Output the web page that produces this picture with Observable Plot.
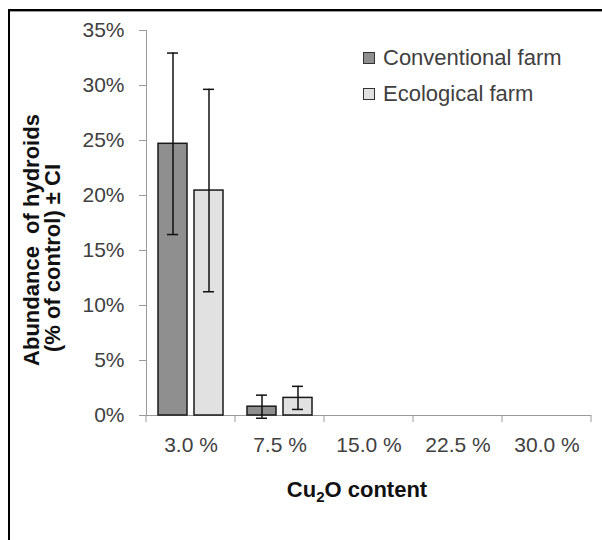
<!DOCTYPE html>
<html><head><meta charset="utf-8">
<script src="https://cdn.jsdelivr.net/npm/d3@7"></script>
<script src="https://cdn.jsdelivr.net/npm/@observablehq/plot@0.6"></script>
<style>
body{margin:0;background:#fff;}
#wrap{position:relative;width:602px;height:540px;overflow:hidden;font-family:"Liberation Sans",Arial,sans-serif;background:#fff;}
#wrap svg{position:absolute;left:0;top:0;}
#frame{position:absolute;left:8px;top:9px;width:600px;height:540px;border-top:2px solid #000;border-left:2px solid #000;box-sizing:border-box;pointer-events:none;}
#frame:after{content:"";position:absolute;left:0;right:0;top:0;height:1px;background:#999;}
.legend{position:absolute;left:363px;top:40px;font-size:22px;color:#404040;line-height:36px;}
.legend div{display:flex;align-items:center;}
.legend span.sw{display:inline-block;width:10px;height:10px;border:1px solid #333;margin-right:8px;}
</style>
</head><body>
<div id="wrap"></div>
<script>
const categories = ["3.0 %","7.5 %","15.0 %","22.5 %","30.0 %"];
const series = ["Conventional farm","Ecological farm"];
const conventional = [24.7, 0.8, 0, 0, 0];
const conventionalCI = [8.25, 1.05, 0, 0, 0];
const ecological = [20.45, 1.6, 0, 0, 0];
const ecologicalCI = [9.2, 1.05, 0, 0, 0];
const yTicks = [0, 5, 10, 15, 20, 25, 30, 35];
const colors = ["#8f8f8f", "#e1e1e1"];

const rows = [];
categories.forEach((c, i) => {
  rows.push({cat: c, series: series[0], value: conventional[i], ci: conventionalCI[i]});
  rows.push({cat: c, series: series[1], value: ecological[i], ci: ecologicalCI[i]});
});
const errRows = rows.filter(d => d.ci > 0);

const plot = Plot.plot({
  width: 602, height: 540,
  marginLeft: 145, marginRight: 10, marginTop: 30, marginBottom: 125,
  style: {fontFamily: '"Liberation Sans", Arial, sans-serif', fontSize: "21px", color: "#404040", background: "transparent", overflow: "visible"},
  fx: {domain: categories, padding: 0, label: null},
  x: {domain: series, paddingInner: 0.19, paddingOuter: 0.315},
  y: {domain: [0, 35], label: null},
  color: {domain: series, range: colors},
  marks: [
    Plot.axisY(yTicks, {anchor: "left", tickSize: 7, tickPadding: 15, tickFormat: d => d + "%", stroke: "#9a9a9a", fill: "#404040", label: null}),
    Plot.axisFx({anchor: "bottom", tickSize: 0, tickPadding: 22, fill: "#404040", label: null}),
    Plot.axisX({ticks: [], label: null, tickSize: 0}),
    Plot.frame({anchor: "left", facetAnchor: "left", stroke: "#9a9a9a"}),
    Plot.ruleY([0], {stroke: "#9a9a9a"}),
    Plot.barY(rows, {fx: "cat", x: "series", y: "value", fill: "series", stroke: "#1a1a1a", strokeWidth: 1.5}),
    Plot.ruleX(errRows, {fx: "cat", x: "series", y1: d => d.value - d.ci, y2: d => d.value + d.ci, stroke: "#111", strokeWidth: 1.5}),
    Plot.tickY(errRows, {fx: "cat", x: "series", y: d => d.value - d.ci, insetLeft: 9, insetRight: 9, stroke: "#111", strokeWidth: 1.5}),
    Plot.tickY(errRows, {fx: "cat", x: "series", y: d => d.value + d.ci, insetLeft: 9, insetRight: 9, stroke: "#111", strokeWidth: 1.5})
  ]
});

const svg = d3.select(plot);
const fxs = plot.scale("fx");
const ys = plot.scale("y");
const y0 = ys.apply(0);
const bounds = categories.map(c => fxs.apply(c)).concat([fxs.apply(categories[categories.length - 1]) + fxs.bandwidth]);
svg.append("g").selectAll("line").data(bounds).join("line")
  .attr("x1", d => d).attr("x2", d => d).attr("y1", y0).attr("y2", y0 + 7)
  .attr("stroke", "#9a9a9a");

// x axis title
const xt = svg.append("text")
  .attr("x", 357).attr("y", 497).attr("text-anchor", "middle")
  .attr("font-weight", "bold").attr("font-size", 22).attr("fill", "#111");
xt.append("tspan").text("Cu");
xt.append("tspan").attr("font-size", 15).attr("dy", 5).text("2");
xt.append("tspan").attr("dy", -5).text("O content");

// y axis title
svg.append("text")
  .attr("transform", "translate(39,240) rotate(-90)")
  .attr("text-anchor", "middle").attr("font-weight", "bold").attr("font-size", 22).attr("fill", "#111")
  .text("Abundance  of hydroids").attr("xml:space", "preserve").style("white-space", "pre");
svg.append("text")
  .attr("transform", "translate(60,258) rotate(-90)")
  .attr("text-anchor", "middle").attr("font-weight", "bold").attr("font-size", 22).attr("fill", "#111")
  .text("(% of control) ± CI");

const wrap = document.getElementById("wrap");
wrap.appendChild(plot);

const legend = d3.select(wrap).append("div").attr("class", "legend");
series.forEach((s, i) => {
  const row = legend.append("div");
  row.append("span").attr("class", "sw").style("background", colors[i]);
  row.append("span").text(s);
});
d3.select(wrap).append("div").attr("id", "frame");
</script>
</body></html>
